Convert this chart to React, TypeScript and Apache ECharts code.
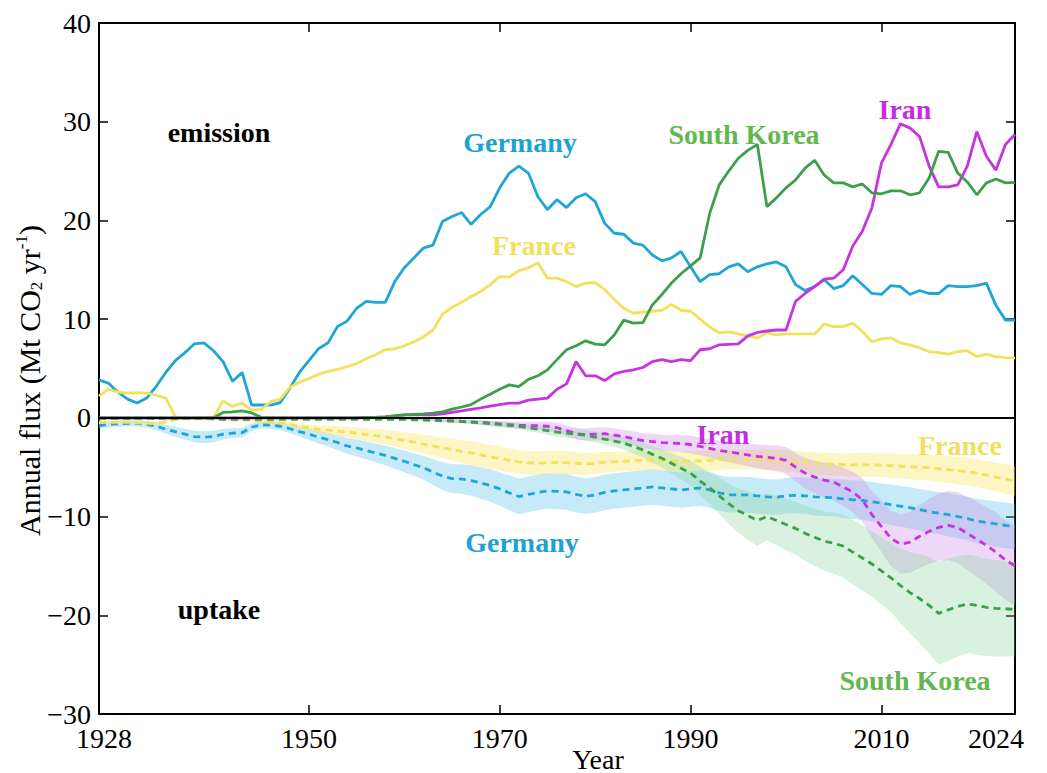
import React, { useEffect, useRef } from 'react';
import * as echarts from 'echarts';

const YEARS: string[] = Array.from({ length: 97 }, (_, i) => String(1928 + i));
const X_LABEL_YEARS = ['1928', '1950', '1970', '1990', '2010', '2024'];
const X_TICK_YEARS = ['1950', '1970', '1990', '2010'];

// Emissions (Mt CO2 / yr), 1928..2024
const GER_EMIS = [
  3.85, 3.5, 2.6, 1.9, 1.5, 2.0, 3.2, 4.6, 5.8, 6.6,
  7.5, 7.6, 6.8, 5.7, 3.7, 4.6, 1.3, 1.3, 1.3, 1.55,
  3.0, 4.6, 5.8, 7.0, 7.6, 9.25, 9.8, 11.1, 11.8, 11.7,
  11.7, 13.8, 15.2, 16.2, 17.2, 17.5, 19.9, 20.4, 20.8, 19.6,
  20.6, 21.4, 23.3, 24.8, 25.5, 24.8, 22.4, 21.1, 22.1, 21.3,
  22.3, 22.7, 21.9, 19.7, 18.7, 18.6, 17.7, 17.5, 16.5, 15.9,
  16.2, 16.85, 15.3, 13.8, 14.5, 14.6, 15.3, 15.6, 14.8, 15.3,
  15.6, 15.8, 15.3, 13.5, 12.9, 13.3, 14.0, 13.1, 13.4, 14.4,
  13.5, 12.6, 12.5, 13.4, 13.3, 12.5, 12.9, 12.6, 12.6, 13.4,
  13.3, 13.3, 13.4, 13.65, 11.4, 9.9, 9.9,
];
const FRA_EMIS = [
  2.2, 2.9, 2.6, 2.5, 2.55, 2.5, 2.3, 2.0, 0.1, 0,
  0, 0, 0.05, 1.7, 1.15, 1.5, 0.8, 0.85, 1.65, 1.9,
  3.1, 3.6, 4.0, 4.4, 4.7, 4.9, 5.2, 5.5, 6.0, 6.4,
  6.9, 7.0, 7.3, 7.7, 8.2, 8.9, 10.5, 11.2, 11.7, 12.3,
  12.8, 13.5, 14.3, 14.25, 14.9, 15.2, 15.7, 14.15, 14.15, 13.8,
  13.3, 13.65, 13.7, 13.0, 12.0, 11.1, 10.6, 10.7, 10.8, 10.9,
  11.5, 10.9, 10.8, 10.0, 9.2, 8.6, 8.7, 8.5, 8.3, 8.1,
  8.6, 8.4, 8.5, 8.5, 8.5, 8.5, 9.5, 9.25, 9.25, 9.6,
  8.75, 7.7, 8.0, 8.1, 7.6, 7.4, 7.1, 6.7, 6.6, 6.45,
  6.7, 6.8, 6.2, 6.45, 6.2, 6.1, 6.05,
];
const KOR_EMIS = [
  0, 0, 0, 0, 0, 0, 0, 0, 0, 0,
  0, 0, 0, 0.55, 0.6, 0.7, 0.5, 0.05, 0, 0,
  0, 0, 0, 0, 0, 0, 0, 0, 0.05, 0.05,
  0.1, 0.2, 0.3, 0.35, 0.4, 0.47, 0.6, 0.88, 1.1, 1.35,
  1.9, 2.4, 2.9, 3.34, 3.17, 3.9, 4.26, 4.86, 5.9, 6.9,
  7.3, 7.8, 7.47, 7.4, 8.4, 9.9, 9.6, 9.65, 11.45, 12.5,
  13.65, 14.6, 15.4, 16.2, 20.7, 23.6, 25.0, 26.3, 27.1, 27.7,
  21.4, 22.3, 23.3, 24.1, 25.3, 26.1, 24.6, 23.8, 23.8, 23.4,
  23.7, 22.8, 22.7, 23.0, 23.0, 22.6, 22.8, 24.3, 27.0, 26.9,
  24.8, 23.9, 22.6, 23.8, 24.2, 23.8, 23.85,
];
const IRN_EMIS = [
  0, 0, 0, 0, 0, 0, 0, 0, 0, 0,
  0, 0, 0, 0, 0, 0, 0, 0, 0, 0,
  0, 0, 0, 0, 0, 0, 0, 0, 0.05, 0.05,
  0.1, 0.2, 0.3, 0.3, 0.3, 0.3, 0.4, 0.55, 0.7, 0.85,
  1.0, 1.2, 1.35, 1.5, 1.5, 1.8, 1.9, 2.0, 2.9, 3.44,
  5.7, 4.26, 4.26, 3.78, 4.46, 4.7, 4.86, 5.1, 5.7, 5.9,
  5.7, 5.9, 5.8, 6.9, 7.0, 7.4, 7.45, 7.5, 8.3, 8.65,
  8.8, 8.9, 8.9, 11.8, 12.6, 13.3, 14.05, 14.15, 15.0, 17.4,
  18.9, 21.25, 25.8, 27.7, 29.8, 29.35, 28.5, 25.5, 23.4, 23.4,
  23.6, 25.5, 29.0, 26.5, 25.1, 27.7, 28.7,
];

// Uptake (mean, Mt CO2 / yr), 1928..2024
const GER_UP = [
  -0.78, -0.65, -0.6, -0.55, -0.55, -0.65, -0.85, -1.15, -1.4, -1.65,
  -1.9, -1.95, -1.9, -1.65, -1.55, -1.5, -0.95, -0.7, -0.75, -0.85,
  -1.1, -1.4, -1.65, -1.95, -2.2, -2.5, -2.85, -3.05, -3.3, -3.55,
  -3.8, -4.1, -4.4, -4.75, -5.05, -5.5, -5.9, -6.15, -6.2, -6.35,
  -6.6, -6.85, -7.2, -7.6, -7.97, -7.75, -7.55, -7.4, -7.45, -7.5,
  -7.75, -7.95, -7.8, -7.55, -7.4, -7.3, -7.2, -7.1, -7.0, -7.1,
  -7.2, -7.3, -7.2, -7.1, -7.3, -7.6, -7.8, -7.8, -7.8, -7.9,
  -8.0, -8.05, -7.9, -7.85, -7.9, -8.0, -8.05, -8.1, -8.2, -8.3,
  -8.35, -8.5, -8.65, -8.8, -8.95, -9.1, -9.3, -9.5, -9.65, -9.8,
  -10.0, -10.2, -10.45, -10.6, -10.75, -10.9, -11.0,
];
const FRA_UP = [
  -0.47, -0.45, -0.45, -0.45, -0.5, -0.55, -0.6, -0.4, -0.2, -0.1,
  -0.1, -0.1, -0.12, -0.15, -0.2, -0.2, -0.22, -0.35, -0.42, -0.5,
  -0.65, -0.85, -1.0, -1.15, -1.25, -1.35, -1.45, -1.55, -1.7, -1.8,
  -1.95, -2.1, -2.3, -2.45, -2.65, -2.85, -3.05, -3.2, -3.4, -3.55,
  -3.75, -3.95, -4.1, -4.3, -4.45, -4.55, -4.6, -4.55, -4.5, -4.55,
  -4.6, -4.66, -4.6, -4.5, -4.45, -4.4, -4.35, -4.3, -4.26, -4.3,
  -4.35, -4.4, -4.38, -4.36, -4.3, -4.25, -4.2, -4.2, -4.2, -4.22,
  -4.25, -4.3, -4.35, -4.45, -4.55, -4.6, -4.65, -4.7, -4.75, -4.76,
  -4.76, -4.76, -4.8, -4.85, -4.9, -4.95, -5.0, -5.05, -5.15, -5.25,
  -5.35, -5.45, -5.6, -5.8, -6.0, -6.2, -6.4,
];
const KOR_UP = [
  -0.05, -0.05, -0.05, -0.05, -0.05, -0.05, -0.05, -0.05, -0.05, -0.05,
  -0.05, -0.05, -0.1, -0.15, -0.15, -0.15, -0.15, -0.15, -0.15, -0.15,
  -0.15, -0.15, -0.15, -0.15, -0.15, -0.15, -0.15, -0.15, -0.15, -0.15,
  -0.15, -0.15, -0.15, -0.2, -0.22, -0.25, -0.3, -0.33, -0.37, -0.42,
  -0.5, -0.55, -0.65, -0.75, -0.85, -1.0, -1.15, -1.3, -1.45, -1.55,
  -1.65, -1.75, -1.95, -2.16, -2.35, -2.56, -2.9, -3.24, -3.7, -4.1,
  -4.6, -5.1, -5.6, -6.4, -7.1, -7.9, -8.7, -9.4, -9.9, -10.4,
  -10.0, -10.4, -10.8, -11.2, -11.7, -12.1, -12.5, -12.7, -13.0, -13.6,
  -14.2, -14.8, -15.5, -16.2, -17.0, -17.7, -18.3, -19.0, -19.8, -19.45,
  -19.1, -18.85, -19.0, -19.2, -19.3, -19.35, -19.4,
];
const IRN_UP = [
  -0.03, -0.03, -0.03, -0.03, -0.03, -0.03, -0.03, -0.03, -0.03, -0.03,
  -0.03, -0.03, -0.03, -0.03, -0.03, -0.03, -0.03, -0.03, -0.03, -0.03,
  -0.03, -0.03, -0.03, -0.03, -0.03, -0.03, -0.03, -0.03, -0.03, -0.03,
  -0.05, -0.08, -0.1, -0.1, -0.15, -0.2, -0.25, -0.3, -0.35, -0.4,
  -0.47, -0.55, -0.62, -0.7, -0.75, -0.78, -0.8, -0.85, -1.0, -1.3,
  -1.6, -1.7, -1.65, -1.6, -1.75, -1.9, -2.1, -2.3, -2.4, -2.5,
  -2.56, -2.6, -2.7, -2.9, -3.1, -3.3, -3.45, -3.6, -3.75, -3.9,
  -4.0, -4.1, -4.3, -5.0, -5.6, -6.0, -6.3, -6.5, -7.0, -7.5,
  -8.3, -9.8, -11.0, -12.2, -12.8, -12.6, -12.0, -11.5, -11.1, -10.9,
  -11.1, -11.7, -12.3, -12.9, -13.6, -14.4, -15.0,
];

// Uptake uncertainty (half-width of the shaded band), 1928..2024
const GER_UNC = [
  0.3, 0.3, 0.3, 0.3, 0.3, 0.35, 0.4, 0.45, 0.5, 0.55,
  0.6, 0.6, 0.6, 0.55, 0.5, 0.5, 0.4, 0.35, 0.35, 0.4,
  0.45, 0.5, 0.6, 0.65, 0.7, 0.75, 0.8, 0.85, 0.9, 0.95,
  1.0, 1.05, 1.1, 1.15, 1.2, 1.3, 1.4, 1.45, 1.5, 1.55,
  1.6, 1.65, 1.7, 1.75, 1.8, 1.8, 1.8, 1.8, 1.8, 1.8,
  1.8, 1.8, 1.8, 1.8, 1.8, 1.8, 1.8, 1.8, 1.8, 1.8,
  1.8, 1.8, 1.8, 1.8, 1.8, 1.8, 1.8, 1.8, 1.8, 1.8,
  1.8, 1.8, 1.8, 1.85, 1.85, 1.9, 1.9, 1.9, 1.95, 1.95,
  2.0, 2.0, 2.0, 2.05, 2.05, 2.1, 2.1, 2.15, 2.15, 2.2,
  2.2, 2.2, 2.25, 2.25, 2.3, 2.3, 2.3,
];
const FRA_UNC = [
  0.2, 0.2, 0.2, 0.2, 0.2, 0.2, 0.2, 0.2, 0.15, 0.1,
  0.1, 0.1, 0.1, 0.1, 0.12, 0.12, 0.12, 0.15, 0.18, 0.2,
  0.25, 0.3, 0.35, 0.4, 0.45, 0.5, 0.55, 0.6, 0.65, 0.7,
  0.75, 0.8, 0.85, 0.9, 0.95, 1.0, 1.05, 1.1, 1.15, 1.2,
  1.2, 1.2, 1.2, 1.2, 1.2, 1.2, 1.2, 1.2, 1.2, 1.2,
  1.15, 1.1, 1.1, 1.05, 1.0, 1.0, 1.0, 1.0, 1.0, 1.0,
  1.0, 1.0, 1.0, 1.0, 1.0, 1.0, 1.0, 1.0, 1.0, 1.0,
  1.05, 1.05, 1.1, 1.1, 1.1, 1.1, 1.15, 1.15, 1.15, 1.2,
  1.2, 1.2, 1.2, 1.25, 1.25, 1.3, 1.3, 1.3, 1.35, 1.35,
  1.4, 1.4, 1.4, 1.45, 1.45, 1.5, 1.5,
];
const KOR_UNC = [
  0.05, 0.05, 0.05, 0.05, 0.05, 0.05, 0.05, 0.05, 0.05, 0.05,
  0.05, 0.05, 0.05, 0.05, 0.05, 0.05, 0.05, 0.05, 0.05, 0.05,
  0.05, 0.05, 0.05, 0.05, 0.05, 0.05, 0.05, 0.05, 0.05, 0.05,
  0.05, 0.05, 0.05, 0.08, 0.1, 0.1, 0.12, 0.14, 0.16, 0.18,
  0.2, 0.22, 0.25, 0.28, 0.3, 0.33, 0.36, 0.4, 0.43, 0.46,
  0.5, 0.52, 0.55, 0.58, 0.6, 0.65, 0.7, 0.75, 0.85, 0.95,
  1.05, 1.15, 1.3, 1.45, 1.65, 1.85, 2.05, 2.25, 2.45, 2.6,
  2.4, 2.5, 2.6, 2.7, 2.8, 2.9, 3.0, 3.1, 3.2, 3.3,
  3.3, 3.3, 3.4, 3.5, 3.8, 4.1, 4.5, 4.9, 5.2, 5.2,
  5.1, 5.0, 5.0, 4.9, 4.9, 4.8, 4.8,
];
const IRN_UNC = [
  0.02, 0.02, 0.02, 0.02, 0.02, 0.02, 0.02, 0.02, 0.02, 0.02,
  0.02, 0.02, 0.02, 0.02, 0.02, 0.02, 0.02, 0.02, 0.02, 0.02,
  0.02, 0.02, 0.02, 0.02, 0.02, 0.02, 0.02, 0.02, 0.02, 0.02,
  0.05, 0.06, 0.08, 0.1, 0.12, 0.14, 0.16, 0.18, 0.2, 0.22,
  0.25, 0.28, 0.3, 0.32, 0.35, 0.38, 0.4, 0.45, 0.5, 0.55,
  0.6, 0.62, 0.64, 0.66, 0.68, 0.7, 0.72, 0.75, 0.78, 0.8,
  0.82, 0.85, 0.88, 0.9, 0.95, 1.0, 1.05, 1.1, 1.15, 1.2,
  1.25, 1.3, 1.35, 1.45, 1.55, 1.65, 1.75, 1.85, 1.95, 2.05,
  2.2, 2.4, 2.6, 2.8, 3.0, 3.1, 3.2, 3.3, 3.4, 3.5,
  3.6, 3.7, 3.8, 3.9, 4.0, 4.0, 4.0,
];

const FONT = '"Liberation Serif", "Times New Roman", serif';

const COUNTRIES = [
  { key: 'Germany', emis: GER_EMIS, up: GER_UP, unc: GER_UNC, line: '#1ea6d6', band: 'rgba(95, 195, 235, 0.35)' },
  { key: 'France', emis: FRA_EMIS, up: FRA_UP, unc: FRA_UNC, line: '#f2e15a', band: 'rgba(248, 232, 115, 0.42)' },
  { key: 'Iran', emis: IRN_EMIS, up: IRN_UP, unc: IRN_UNC, line: '#c734de', band: 'rgba(200, 140, 232, 0.33)' },
  { key: 'South Korea', emis: KOR_EMIS, up: KOR_UP, unc: KOR_UNC, line: '#3d9f4c', band: 'rgba(130, 212, 150, 0.3)' },
];

const LABELS = [
  { text: 'emission', x: 211, y: 124, color: '#000' },
  { text: 'uptake', x: 211, y: 601, color: '#000' },
  { text: 'Germany', x: 512, y: 134, color: '#1ba3d3' },
  { text: 'France', x: 526, y: 237, color: '#f0e05e' },
  { text: 'South Korea', x: 736, y: 126, color: '#62b84f' },
  { text: 'Iran', x: 897, y: 101, color: '#c42ee0' },
  { text: 'Iran', x: 715, y: 426, color: '#c42ee0' },
  { text: 'France', x: 952, y: 437, color: '#f0e05e' },
  { text: 'Germany', x: 514, y: 534, color: '#1ba3d3' },
  { text: 'South Korea', x: 907, y: 672, color: '#62b84f' },
];

function buildOption() {
  const series: any[] = [];
  COUNTRIES.forEach((c) => {
    const lower = c.up.map((v, i) => +(v - c.unc[i]).toFixed(3));
    const width = c.unc.map((u) => +(2 * u).toFixed(3));
    series.push({
      type: 'line', name: c.key + ' band low', data: lower, stack: c.key + '-band', stackStrategy: 'all',
      symbol: 'none', lineStyle: { opacity: 0 }, silent: true, z: 1,
    });
    series.push({
      type: 'line', name: c.key + ' band', data: width, stack: c.key + '-band', stackStrategy: 'all',
      symbol: 'none', lineStyle: { opacity: 0 }, areaStyle: { color: c.band, opacity: 1 }, silent: true, z: 1,
    });
  });
  COUNTRIES.forEach((c) => {
    series.push({
      type: 'line', name: c.key + ' uptake', data: c.up, symbol: 'none', z: 2,
      lineStyle: { color: c.line, width: 2.8, type: [7, 5] },
    });
  });
  COUNTRIES.forEach((c, idx) => {
    const s: any = {
      type: 'line', name: c.key + ' emission', data: c.emis, symbol: 'none', z: 3,
      lineStyle: { color: c.line, width: 2.8 },
    };
    if (idx === 0) {
      s.markLine = {
        silent: true, symbol: ['none', 'none'], label: { show: false },
        lineStyle: { color: '#000', width: 2.2, type: 'solid' },
        data: [{ yAxis: 0 }], z: 5,
      };
    }
    series.push(s);
  });

  const catAxisBase = {
    type: 'category',
    data: YEARS,
    boundaryGap: false,
    axisLine: { show: true, onZero: false, lineStyle: { color: '#000', width: 2 } },
    axisTick: {
      show: true, inside: true, length: 9,
      interval: (_i: number, v: string) => X_TICK_YEARS.includes(v),
      lineStyle: { color: '#000', width: 1.5 },
    },
    splitLine: { show: false },
  };

  return {
    animation: false,
    backgroundColor: '#fff',
    grid: { left: 91, right: 24, top: 15, bottom: 59, containLabel: false, outerBoundsMode: 'none' },
    xAxis: [
      {
        ...catAxisBase,
        position: 'bottom',
        axisLabel: {
          interval: (_i: number, v: string) => X_LABEL_YEARS.includes(v),
          fontSize: 28, fontFamily: FONT, color: '#000', margin: 10,
          formatter: (v: string) => (v === '1928' ? '{f|' + v + '}' : v === '2024' ? '{l|' + v + '}' : v),
          rich: {
            f: { fontSize: 28, fontFamily: FONT, color: '#000', padding: [0, 0, 0, 10] },
            l: { fontSize: 28, fontFamily: FONT, color: '#000', padding: [0, 38, 0, 0] },
          },
        },
        name: 'Year', nameLocation: 'middle', nameGap: 31, nameMoveOverlap: false,
        nameTextStyle: { fontSize: 28, fontFamily: FONT, color: '#000', padding: [0, 0, 0, 82] },
      },
      { ...catAxisBase, position: 'top', axisLabel: { show: false } },
    ],
    yAxis: [
      {
        type: 'value', min: -30, max: 40, interval: 10, position: 'left',
        axisLine: { show: true, lineStyle: { color: '#000', width: 2 } },
        axisTick: { show: true, inside: true, length: 9, lineStyle: { color: '#000', width: 1.5 } },
        splitLine: { show: false },
        axisLabel: {
          fontSize: 28, fontFamily: FONT, color: '#000', margin: 8,
          formatter: (v: number) => (v < 0 ? '\u2212' + Math.abs(v) : String(v)),
        },
        name: 'Annual flux (Mt CO{sub|2} yr{sup|-1})',
        nameLocation: 'middle', nameGap: 54, nameMoveOverlap: false,
        nameTextStyle: {
          fontSize: 30, fontFamily: FONT, color: '#000', lineHeight: 32, padding: [0, 24, 0, 0],
          rich: {
            sub: { fontSize: 17, fontFamily: FONT, color: '#000', verticalAlign: 'bottom', lineHeight: 32 },
            sup: { fontSize: 17, fontFamily: FONT, color: '#000', verticalAlign: 'top', lineHeight: 32 },
          },
        },
      },
      {
        type: 'value', min: -30, max: 40, interval: 10, position: 'right',
        axisLine: { show: true, lineStyle: { color: '#000', width: 2 } },
        axisTick: { show: true, inside: true, length: 9, lineStyle: { color: '#000', width: 1.5 } },
        splitLine: { show: false },
        axisLabel: { show: false },
      },
    ],
    graphic: LABELS.map((l) => ({
      type: 'text', x: l.x, y: l.y, z: 10, silent: true,
      style: {
        text: l.text, fill: l.color, fontSize: 28, fontWeight: 'bold', fontFamily: FONT,
        align: 'center', verticalAlign: 'middle',
      },
    })),
    series,
  };
}

export default function App() {
  const ref = useRef<HTMLDivElement>(null);
  useEffect(() => {
    if (!ref.current) return;
    const chart = echarts.init(ref.current, null, { renderer: 'svg' });
    chart.setOption(buildOption() as any);
    return () => chart.dispose();
  }, []);
  return <div ref={ref} style={{ width: 1031, height: 765 }} />;
}
